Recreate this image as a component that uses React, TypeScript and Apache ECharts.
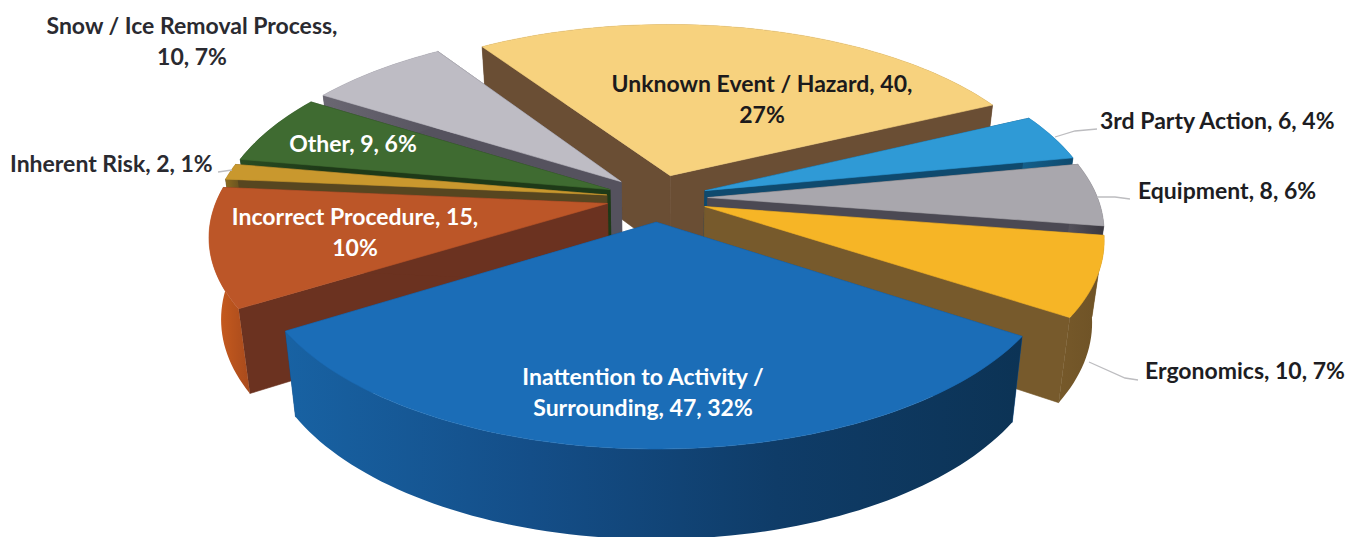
import React, { useEffect, useRef } from "react";
import * as echarts from "echarts";

const categories = [
  "Unknown Event / Hazard",
  "3rd Party Action",
  "Equipment",
  "Ergonomics",
  "Inattention to Activity / Surrounding",
  "Incorrect Procedure",
  "Inherent Risk",
  "Other",
  "Snow / Ice Removal Process",
];
const values = [40, 6, 8, 10, 47, 15, 2, 9, 10];
const percents = [27, 4, 6, 7, 32, 10, 1, 6, 7];

const topColors = ["#F7D27E", "#2F9AD6", "#A9A7AD", "#F6B526", "#1B6DB7", "#BC5628", "#C9982E", "#3F6B31", "#BEBCC4"];
const wallColors = ["#6A4E34", "#0F4A6E", "#4B4953", "#775A2C", "#134F8C", "#6B3220", "#574620", "#1E3A18", "#55525E"];
const rimStops: string[][] = [
  ["#6A4E34", "#6A4E34"],
  ["#14608C", "#0F4A6E"],
  ["#55535C", "#3A3840"],
  ["#76592A", "#6E5226"],
  ["#1862A3", "#144E88", "#0F3C68", "#0C3355"],
  ["#D0601F", "#A84A1C"],
  ["#8A6A20", "#574620"],
  ["#2A4C22", "#1E3A18"],
  ["#6A6772", "#55525E"],
];

// Pixel layout of the drawing, separate from the data
const CX = 657;
const CY = 198;
const RX = 390;
const RY = 182;
const PERSPECTIVE = 0.16;
const DEPTH = 80;
const DEPTH_PERSPECTIVE = 0.1;
const BOTTOM_SHRINK = 0.973;
const EXPLODE = 0.13;
const START_DEG = -33.5;

const labelLayout: { x: number; y: number; align: string; color: string; breakAfter?: string }[] = [
  { x: 762, y: 98, align: "center", color: "#1C1A1C", breakAfter: "40," },
  { x: 1100, y: 120, align: "left", color: "#1D1D22" },
  { x: 1138, y: 190, align: "left", color: "#1D1D22" },
  { x: 1145, y: 370, align: "left", color: "#1D1D22" },
  { x: 643, y: 391, align: "center", color: "#FFFFFF", breakAfter: "Activity /" },
  { x: 355, y: 231, align: "center", color: "#FFFFFF", breakAfter: "15," },
  { x: 10, y: 163, align: "left", color: "#2A2A30" },
  { x: 353, y: 143, align: "center", color: "#FFFFFF" },
  { x: 192, y: 40, align: "center", color: "#2A2A30", breakAfter: "Process," },
];
const leaders: number[][][] = [
  [[1055, 137], [1075, 131], [1097, 129]],
  [[1097, 197], [1115, 197], [1130, 199]],
  [[1089, 362], [1125, 378], [1138, 380]],
  [[218, 172], [232, 170]],
];

const total = values.reduce((a, b) => a + b, 0);
const sliceAngles = (() => {
  let acc = (START_DEG * Math.PI) / 180;
  return values.map((v) => {
    const a0 = acc;
    acc += (v / total) * Math.PI * 2;
    return [a0, acc];
  });
})();

const project = (X: number, Y: number, down: boolean): number[] => {
  const s = 1 / (1 - PERSPECTIVE * Y);
  const d = down ? DEPTH / (1 - DEPTH_PERSPECTIVE * Y) : 0;
  const f = down ? BOTTOM_SHRINK : 1;
  return [CX + RX * X * s * f, CY + RY * Y * s + d];
};

const paintOrder = values
  .map((_, i) => i)
  .sort((p, q) => {
    const m = (i: number) => -Math.cos((sliceAngles[i][0] + sliceAngles[i][1]) / 2);
    return m(p) - m(q);
  });

function renderSlice(_params: any, api: any) {
  const i = api.value(0) as number;
  const [a0, a1] = sliceAngles[i];
  const mid = (a0 + a1) / 2;
  const ox = EXPLODE * Math.sin(mid);
  const oy = -EXPLODE * Math.cos(mid);
  const steps = Math.max(6, Math.round((a1 - a0) * 40));
  const topArc: number[][] = [];
  const botArc: number[][] = [];
  for (let k = 0; k <= steps; k++) {
    const a = a0 + ((a1 - a0) * k) / steps;
    const X = ox + Math.sin(a);
    const Y = oy - Math.cos(a);
    topArc.push(project(X, Y, false));
    botArc.push(project(X, Y, true));
  }
  const apexT = project(ox, oy, false);
  const apexB = project(ox, oy, true);
  const wall = wallColors[i];
  const poly = (points: number[][], fill: any, stroke?: string) => ({
    type: "polygon",
    shape: { points },
    style: { fill, stroke: stroke ?? "none", lineWidth: stroke ? 0.6 : 0 },
  });
  const stops = rimStops[i];
  const rimFill = new echarts.graphic.LinearGradient(
    0, 0, 1, 0,
    stops.map((color, n) => ({ offset: n / (stops.length - 1), color }))
  );
  return {
    type: "group",
    children: [
      poly([apexT, topArc[0], botArc[0], apexB], wall, wall),
      poly([apexT, topArc[steps], botArc[steps], apexB], wall, wall),
      poly([...topArc, ...botArc.slice().reverse()], rimFill),
      poly([apexT, ...topArc], topColors[i], topColors[i]),
    ],
  };
}

const FONT = 'bold 23px Lato, "Open Sans", sans-serif';

export default function App() {
  const ref = useRef<HTMLDivElement>(null);
  useEffect(() => {
    document.body.style.margin = "0";
    const chart = echarts.init(ref.current!, undefined, { renderer: "svg", width: 1363, height: 537 });
    const labelText = (i: number) => {
      const full = `${categories[i]}, ${values[i]}, ${percents[i]}%`;
      const brk = labelLayout[i].breakAfter;
      if (!brk) return full;
      const at = full.indexOf(brk) + brk.length;
      return full.slice(0, at) + "\n" + full.slice(at + 1);
    };
    chart.setOption({
      animation: false,
      backgroundColor: "#FFFFFF",
      series: [
        {
          type: "custom",
          coordinateSystem: "none",
          silent: true,
          clip: false,
          data: paintOrder.map((i) => [i, values[i]]),
          encode: { value: [0, 1] },
          renderItem: renderSlice,
        },
      ],
      graphic: [
        ...leaders.map((pts) => ({
          type: "polyline",
          z: 90,
          shape: { points: pts },
          style: { stroke: "#BDBDC0", lineWidth: 1.3, fill: "none" },
        })),
        ...categories.map((_, i) => ({
          type: "text",
          z: 100,
          x: labelLayout[i].x,
          y: labelLayout[i].y,
          style: {
            text: labelText(i),
            font: FONT,
            fill: labelLayout[i].color,
            align: labelLayout[i].align,
            verticalAlign: "middle",
            lineHeight: 31,
          },
        })),
      ],
    });
    return () => chart.dispose();
  }, []);
  return <div ref={ref} style={{ position: "absolute", left: 0, top: 0, width: 1363, height: 537, overflow: "hidden" }} />;
}
